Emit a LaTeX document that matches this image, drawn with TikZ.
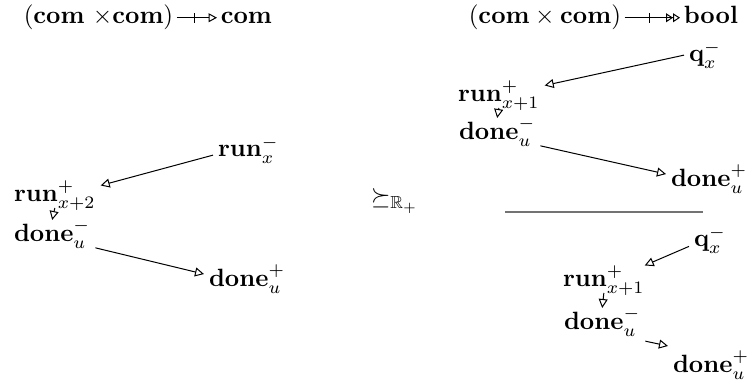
\documentclass[tikz,border=0pt]{standalone}
\usepackage{amssymb}
\usetikzlibrary{arrows.meta,decorations.markings}

\begin{document}
\begin{tikzpicture}[x=0.4pt, y=-0.4pt,
    lbl/.style={inner sep=0pt, outer sep=2pt, anchor=base west},
    hdrtext/.style={inner sep=0pt, outer sep=1.5pt, anchor=base west,
      text height=7.5pt, text depth=2.5pt},
    move/.style={-{Triangle[open,length=3.6pt,width=3.6pt]}, thin},
    pfun/.style={thin, postaction={decorate}, decoration={markings,
      mark=at position 0.45 with {\draw[-] (0,-2pt) -- (0,2pt);}}}]
  \useasboundingbox (0,0) rectangle (751,390);

  % headers
  \node[hdrtext] (hL)  at (20,24)  {$(\mathbf{com}\ {\times}\mathbf{com})$};
  \node[hdrtext] (hLr) at (217,24) {$\mathbf{com}$};
  \node[hdrtext] (hR)  at (465,24) {$(\mathbf{com} \times \mathbf{com})$};
  \node[hdrtext] (hRr) at (680,24) {$\mathbf{bool}$};
  \draw[pfun, -{Triangle[open,length=3.4pt,width=3.6pt]}] (hL) -- (hLr);
  \draw[pfun, -{Triangle[open,length=2.8pt,width=3.6pt]Triangle[open,length=2.8pt,width=3.6pt]}] (hR) -- (hRr);

  % left play
  \node[lbl] (runL)   at (213,157) {$\mathbf{run}^{-}_{x}$};
  \node[lbl] (runLp)  at (9,202)   {$\mathbf{run}^{+}_{x+2}$};
  \node[lbl] (doneLm) at (9,242)   {$\mathbf{done}^{-}_{u}$};
  \node[lbl] (doneLp) at (204,287) {$\mathbf{done}^{+}_{u}$};
  \draw[move] ([yshift=-2pt]runL.west) -- ([yshift=-4pt]runLp.north east);
  \draw[move] ([yshift=-2.4pt]runLp.base) -- ([yshift=8.8pt]doneLm.base);
  \draw[move] ([yshift=-5.5pt]doneLm.east) -- ([yshift=2pt]doneLp.west);

  % relation
  \node[lbl] (rel) at (366,205) {$\succeq_{\mathbb{R}_+}$};

  % right play, upper
  \node[lbl] (qA)     at (684,62)  {$\mathbf{q}^{-}_{x}$};
  \node[lbl] (runA)   at (453,102) {$\mathbf{run}^{+}_{x+1}$};
  \node[lbl] (doneAm) at (454,140) {$\mathbf{done}^{-}_{u}$};
  \node[lbl] (doneAp) at (666,187) {$\mathbf{done}^{+}_{u}$};
  \draw[move] (qA.west) -- ([yshift=-4pt]runA.north east);
  \draw[move] ([yshift=-2.4pt]runA.base) -- ([yshift=8.8pt]doneAm.base);
  \draw[move] ([yshift=-5.5pt]doneAm.east) -- ([yshift=2pt]doneAp.west);

  \draw[black!55, line width=0.8pt] (505,212) -- (703,212);

  % right play, lower
  \node[lbl] (qB)     at (689,247) {$\mathbf{q}^{-}_{x}$};
  \node[lbl] (runB)   at (558,287) {$\mathbf{run}^{+}_{x+1}$};
  \node[lbl] (doneBm) at (559,330) {$\mathbf{done}^{-}_{u}$};
  \node[lbl] (doneBp) at (668,373) {$\mathbf{done}^{+}_{u}$};
  \draw[move] ([yshift=-2.5pt]qB.west) -- ([xshift=-2pt,yshift=-2pt]runB.north east);
  \draw[move] ([yshift=-2.4pt]runB.base) -- ([yshift=8.8pt]doneBm.base);
  \draw[move] (doneBm.south east) -- (doneBp.north west);
\end{tikzpicture}
\end{document}
